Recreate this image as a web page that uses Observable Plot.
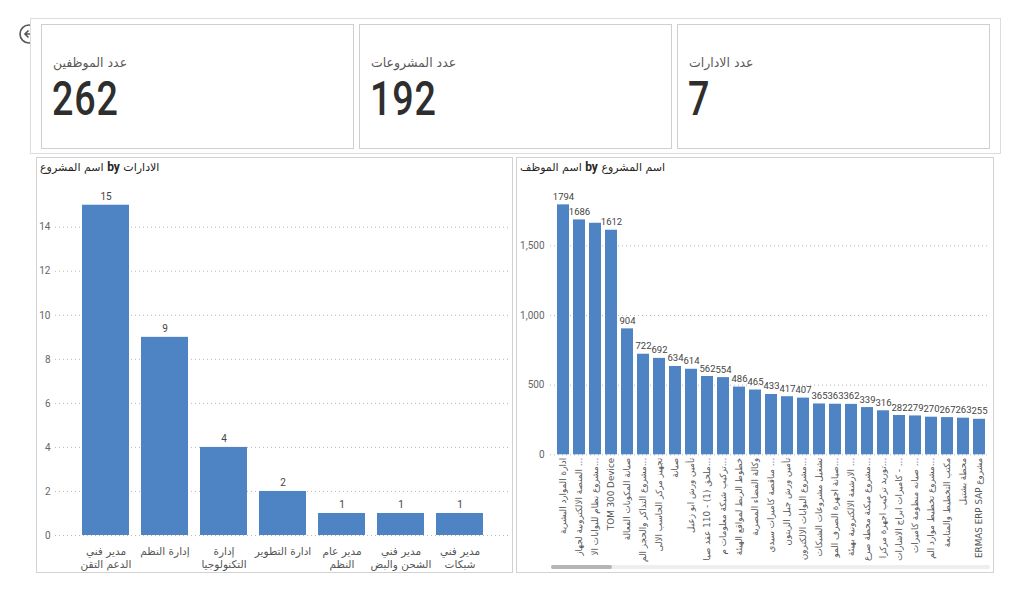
<!DOCTYPE html>
<html>
<head>
<meta charset="utf-8">
<script src="https://cdn.jsdelivr.net/npm/d3@7"></script>
<script src="https://cdn.jsdelivr.net/npm/@observablehq/plot@0.6"></script>
<style>
  body { margin: 0; width: 1024px; height: 592px; background: #fff; position: relative; overflow: hidden;
         font-family: "Segoe UI", Roboto, "DejaVu Sans", sans-serif; }
  .frame { position: absolute; box-sizing: border-box; border: 1px solid #d2d2d2; background: #fff; }
  .card-label { position: absolute; left: 11px; top: 30px; font-size: 12.5px; color: #5a5a5a; font-family: "DejaVu Sans", sans-serif; }
  .card-value { position: absolute; left: 10px; top: 49px; font-size: 49px; line-height: 50px; color: #2e2e2e; font-weight: 500;
                font-family: Roboto, "DejaVu Sans", sans-serif; transform: scaleX(0.77); transform-origin: left center; letter-spacing: 1px; }
  .title { position: absolute; font-size: 11px; color: #252423; direction: ltr; white-space: nowrap; font-family: "DejaVu Sans", sans-serif; }
  .title b { font-family: "Segoe UI", Roboto, sans-serif; font-size: 12px; }
  .chart { position: absolute; }
</style>
</head>
<body>
<div id="root"></div>
<script>
// KPI cards
const kpiLabels = ["عدد الموظفين", "عدد المشروعات", "عدد الادارات"];
const kpiValues = [262, 192, 7];

// Projects per department
const deptNames = ["مدير فني\nالدعم التقن", "إدارة النظم", "إدارة\nالتكنولوجيا", "ادارة التطوير", "مدير عام\nالنظم", "مدير فني\nالشحن والبض", "مدير فني\nشبكات"];
const deptProjects = [15, 9, 4, 2, 1, 1, 1];
const deptTicks = [0, 2, 4, 6, 8, 10, 12, 14];

// Employees per project
const projectNames = [
  "ادارة الموارد البشرية",
  "المنصة الالكترونية لجهاز ...",
  "مشروع نظام للبوابات الا...",
  "TOM 300 Device",
  "صيانة المكونات الفعالة",
  "مشروع التذاكر والحجز الم...",
  "تجهيز مركز الحاسب الالى",
  "صيانة",
  "تأمين ورش ابو زعبل",
  "ملحق (1) - 110 عقد صيا...",
  "تركيب شبكة معلومات م...",
  "خطوط الربط لمواقع الهيئة",
  "وكالة الفضاء المصرية",
  "مناقصة كاميرات سيدي ...",
  "تأمين ورش جبل الزيتون",
  "مشروع البوابات الالكترون...",
  "تشغيل مشروعات الشبكات",
  "صيانة اجهزة الصرف المو...",
  "الارشفة الالكترونية بهيئة ...",
  "مشروع ميكنة محطة صرع...",
  "توريد تركيب اجهزة مركزا...",
  "كاميرات ابراج الاشارات - ...",
  "صيانه منظومة كاميرات ...",
  "مشروع تخطيط موارد الم...",
  "مكتب التخطيط والمتابعة",
  "محطة بشتيل",
  "ERMAS ERP SAP مشروع"
];
const projectEmployees = [1794, 1686, 1662, 1612, 904, 722, 692, 634, 614, 562, 554, 486, 465, 433, 417, 407, 365, 363, 362, 339, 316, 282, 279, 270, 267, 263, 255];
const projectTicks = [0, 500, 1000, 1500];

const barColor = "#4f84c4";
const root = document.getElementById("root");

function el(tag, cls, style, html) {
  const e = document.createElement(tag);
  if (cls) e.className = cls;
  if (style) Object.assign(e.style, style);
  if (html != null) e.innerHTML = html;
  return e;
}

// back button
root.insertAdjacentHTML("beforeend",
  `<svg style="position:absolute;left:18px;top:22px" width="22" height="24">
     <circle cx="11" cy="12" r="9" fill="#fff" stroke="#555" stroke-width="1.6"/>
     <path d="M15 12H7M10.5 8.5L7 12l3.5 3.5" fill="none" stroke="#555" stroke-width="1.6"/>
   </svg>`);

// card strip
root.appendChild(el("div", "frame", {left: "30px", top: "18px", width: "971px", height: "136px", borderColor: "#dcdcdc"}));
const cardLefts = [41, 359, 677];
kpiLabels.forEach((lab, i) => {
  const card = el("div", "frame", {left: cardLefts[i] + "px", top: "24px", width: "313px", height: "125px", borderColor: "#cfcfcf"});
  card.appendChild(el("div", "card-label", null, lab));
  card.appendChild(el("div", "card-value", null, String(kpiValues[i])));
  root.appendChild(card);
});

// chart panels
root.appendChild(el("div", "frame", {left: "36px", top: "157px", width: "477px", height: "416px"}));
root.appendChild(el("div", "frame", {left: "516px", top: "157px", width: "478px", height: "416px"}));
root.appendChild(el("div", "title", {left: "40px", top: "160px"}, "<span>اسم المشروع</span> <b>by</b> <span>الادارات</span>"));
root.appendChild(el("div", "title", {left: "520px", top: "160px"}, "<span>اسم الموظف</span> <b>by</b> <span>اسم المشروع</span>"));

const baseStyle = {fontFamily: "Roboto, 'DejaVu Sans', sans-serif", fontSize: "10px", background: "transparent", overflow: "visible"};

// Left: project count by department
const deptData = deptNames.map((name, i) => ({name, value: deptProjects[i]}));
const left = Plot.plot({
  width: 476, height: 414,
  marginTop: 24.7, marginBottom: 37, marginLeft: 19, marginRight: 2,
  style: baseStyle,
  x: {domain: deptNames, range: [39, 454], paddingInner: 0.2, paddingOuter: 0.1, label: null},
  y: {domain: [0, 16], label: null},
  marks: [
    Plot.gridY(deptTicks, {stroke: "#b9b9b9", strokeOpacity: 1, strokeDasharray: "1,3"}),
    Plot.axisY(deptTicks, {tickSize: 0, tickPadding: 5, label: null, color: "#666", fontSize: 10}),
    Plot.barY(deptData, {x: "name", y: "value", fill: barColor}),
    Plot.text(deptData, {x: "name", y: "value", text: d => String(d.value), dy: -5, lineAnchor: "bottom", fill: "#444", fontSize: 10}),
    Plot.axisX({tickSize: 0, tickPadding: 11, label: null, color: "#555", fontSize: 10.5, lineHeight: 1.2,
                fontFamily: "'DejaVu Sans', sans-serif"})
  ]
});
const leftWrap = el("div", "chart", {left: "36px", top: "158px"});
leftWrap.appendChild(left);
root.appendChild(leftWrap);

// Right: employee count by project
const projData = projectNames.map((name, i) => ({name, value: projectEmployees[i], i}));
const right = Plot.plot({
  width: 477, height: 414,
  marginTop: 31.6, marginBottom: 117.7, marginLeft: 34, marginRight: 3,
  style: baseStyle,
  x: {domain: projectNames, range: [38.9, 470.9], paddingInner: 0.23, paddingOuter: 0.115, label: null},
  y: {domain: [0, 1900], label: null},
  marks: [
    Plot.gridY(projectTicks, {stroke: "#b9b9b9", strokeOpacity: 1, strokeDasharray: "1,3"}),
    Plot.axisY(projectTicks, {tickSize: 0, tickPadding: 6, label: null, color: "#666", fontSize: 10, tickFormat: d3.format(",")}),
    Plot.barY(projData, {x: "name", y: "value", fill: barColor}),
    // the third label is left out where it would collide with its neighbours
    Plot.text(projData.filter(d => d.i !== 2), {x: "name", y: "value", text: d => String(d.value), dy: -5, lineAnchor: "bottom",
              fill: "#444", fontSize: 9.5}),
    Plot.axisX({tickSize: 0, tickPadding: 3, tickRotate: -90, label: null, color: "#555", fontSize: 8.8,
                fontFamily: "'DejaVu Sans', sans-serif"})
  ]
});
const rightWrap = el("div", "chart", {left: "516px", top: "158px"});
rightWrap.appendChild(right);
root.appendChild(rightWrap);

// horizontal scrollbar under the project axis
root.appendChild(el("div", null, {position: "absolute", left: "551px", top: "565px", width: "439px", height: "4px", background: "#eeeeee", borderRadius: "2px"}));
root.appendChild(el("div", null, {position: "absolute", left: "551px", top: "565px", width: "61px", height: "4px", background: "#b5b5b5", borderRadius: "2px"}));
</script>
</body>
</html>
